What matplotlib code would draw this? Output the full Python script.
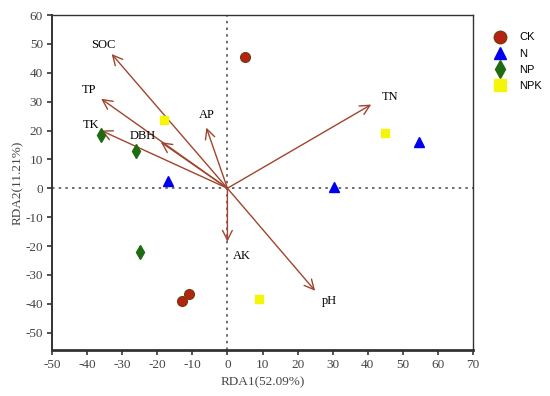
import matplotlib
matplotlib.use("Agg")
import matplotlib.pyplot as plt
from matplotlib.lines import Line2D

groups = ["CK", "N", "NP", "NPK"]
ck_x = [5, -13, -11]
ck_y = [45.5, -39, -36.5]
n_x = [-17, 30.5, 54.5]
n_y = [2.5, 0.5, 16]
np_x = [-36, -26, -25]
np_y = [18.5, 13, -22]
npk_x = [-18, 45, 9]
npk_y = [23.5, 19, -38.5]

vars_ = ["SOC", "TP", "TK", "DBH", "AP", "TN", "AK", "pH"]
vec_x = [-33, -36, -36, -19, -6, 41, 0, 25]
vec_y = [46.5, 31, 20, 16, 21, 29, -18.5, -35.5]
lab_x = [-35.5, -39.5, -39, -24, -6, 46.5, 4, 29]
lab_y = [49.5, 34, 22, 18, 25.5, 31.5, -23.5, -39]

plt.rcParams['font.family'] = ['Liberation Serif', 'DejaVu Serif']
plt.rcParams['axes.unicode_minus'] = False
fig = plt.figure(figsize=(5.5, 3.96), dpi=100)
ax = fig.add_axes([52/550, 1-350/396, (473-52)/550, (350-15)/396])
ax.set_xlim(-50, 70)
ax.set_ylim(-56, 60)

ax.axhline(0, color='#555555', ls=(0, (1.5, 2.5)), lw=1.2, zorder=1)
ax.axvline(0, color='#555555', ls=(0, (1.5, 2.5)), lw=1.2, zorder=1)

for vx, vy, lx, ly, name in zip(vec_x, vec_y, lab_x, lab_y, vars_):
    ax.annotate("", xy=(vx, vy), xytext=(0, 0),
                arrowprops=dict(arrowstyle="->,head_length=0.7,head_width=0.35",
                                color='#A0452D', lw=1.0, shrinkA=0, shrinkB=0), zorder=2)
    ax.text(lx, ly, name, ha='center', va='center', fontsize=9, zorder=4)

ms = 7
ax.plot(ck_x, ck_y, 'o', color='#B5220F', mec='#7a3a10', ms=ms, ls='none', zorder=3)
ax.plot(n_x, n_y, '^', color='#0000EE', ms=ms, ls='none', zorder=3)
ax.plot(np_x, np_y, 'd', color='#1E6B12', ms=ms, ls='none', zorder=3)
ax.plot(npk_x, npk_y, 's', color='#F5F50A', ms=6, ls='none', zorder=3)

ax.set_xticks(range(-50, 71, 10))
ax.set_yticks(range(-50, 61, 10))
ax.tick_params(direction='out', length=3.5, width=1.2, labelsize=9.5, colors='#333333', pad=3)
ax.tick_params(labelcolor='#444444')
for s in ax.spines.values():
    s.set_linewidth(1.0)
    s.set_color('#333333')
ax.spines['bottom'].set_linewidth(2.0)
ax.spines['left'].set_linewidth(1.4)
ax.set_xlabel("RDA1(52.09%)", fontsize=9.5, color='#444444', labelpad=4)
ax.set_ylabel("RDA2(11.21%)", fontsize=9.5, color='#444444', labelpad=1)

handles = [
    Line2D([], [], marker='o', color='#B5220F', mec='#7a3a10', ls='none', ms=9),
    Line2D([], [], marker='^', color='#0000EE', ls='none', ms=9),
    Line2D([], [], marker='d', color='#1E6B12', ls='none', ms=9),
    Line2D([], [], marker='s', color='#F5F50A', ls='none', ms=8),
]
fig.legend(handles, groups, loc='upper left', bbox_to_anchor=(484/550, 1-28/396),
           frameon=False, prop={'family': 'Liberation Sans', 'size': 8},
           handletextpad=0.8, labelspacing=0.55, borderaxespad=0)

fig.savefig("out.png", dpi=100)
